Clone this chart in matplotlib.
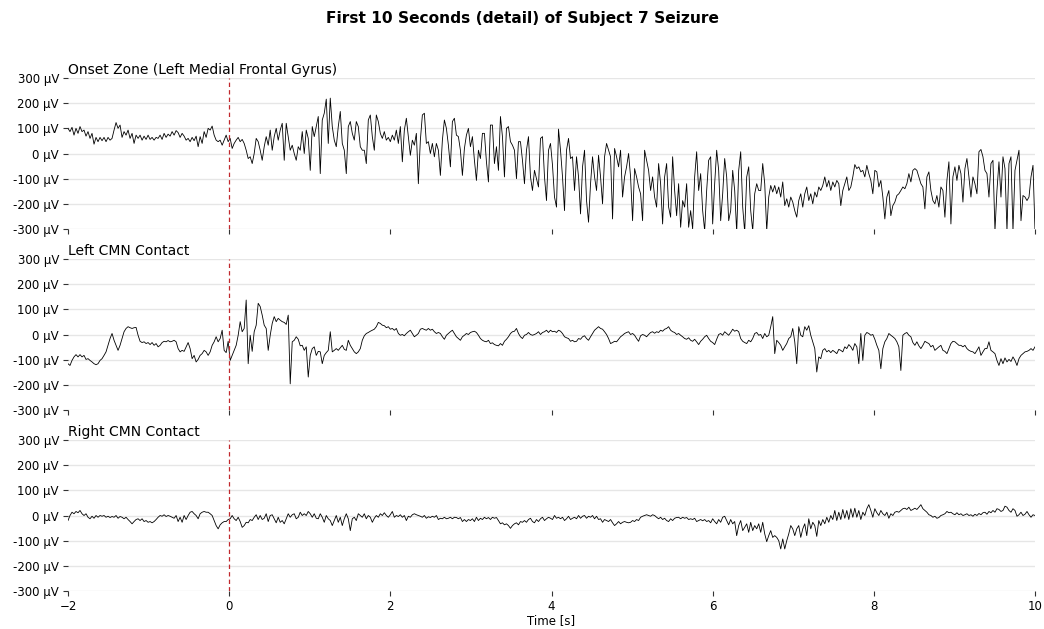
import numpy as np
import matplotlib
matplotlib.use("Agg")
import matplotlib.pyplot as plt

# ---------------- data (µV), uniformly sampled from -2 s to 10 s ----------------
T_START, T_END = -2, 10

onset_a = [100,87,104,73,100,80,107,87,93,69, 87,60,80,37,64,47,64,51,64,47,
           64,53,60,93,123,100,113,64,87,73, 93,60,80,40,73,60,73,53,69,56,
           73,56,64,53,64,60,73,56,80,64, 77,69,87,73,91,83,64,80,69,53,
           60,47,64,51,69,27,67,40,87,64, 100,93,109,73,53,47,53,33,53,73,
           47,60,20,40,53,64,47,56,40,13, -20,-13,-40,0,60,47,13,-27,27,67,
           33,93,13,67,100,53,93,120,-27,120, 67,13,33,0,-27,27,13,87,0,93,
           60,-67,107,67,107,147,-80,133,160,216, 40,220,107,53,27,107,167,40,13,-80,
           107,127,80,53,127,107]
onset_b = [27,13,13,-40,133,153,67,13,153,127, 80,60,87,53,64,47,73,53,93,40,
           107,-33,93,140,67,-7,53,33,80,-120, 53,153,160,40,47,0,40,-13,40,13,
           -87,53,133,100,33,-53,127,140,73,67, 13,-87,20,73,100,27,67,-27,-107,13,
           -20,80,80,-33,-113,113,113,-40,27,-67, 147,67,-93,100,107,47,33,13,-100,47,
           47,-27,-120,13,67,-93,-147,-67,-100,-133, 60,67,-93,-187,13,40,-47,-173,-213,97,
           13,-93,-227,13,60,-20,-13,-147,-13,-93, -240,-53,13,-187,-273,-120,-13,-93,-147,-7,
           -93,-200,-13,40,13,-13,-260,20,-13,-53, 13,-173,-93,-53,0,-93,-267,-60,-93,-133,
           -160,-267,13,-27,-67,-147,-93,-173,-213,-40, -120,-280,-93,-40,-213,-253,-13,-147,-247,-120,
           -293,-187,-213,-120,-293,-227,-300,-93,7,-147]
onset_c = [-80,-227,-307,-147,-27,-13,-280,-120,13,-67, -267,-160,-20,-93,-267,-227,-67,-147,-313,-67,
           7,-213,-313,-93,-53,-227,-307,-160,-120,-147, -147,-40,-120,-307,-173,-127,-153,-127,-160,-133,
           -173,-113,-207,-180,-213,-173,-193,-227,-253,-187, -160,-213,-160,-133,-187,-160,-200,-153,-173,-133,
           -147,-127,-93,-133,-107,-147,-113,-133,-107,-120, -207,-147,-120,-93,-147,-133,-93,-44,-60,-53,
           -73,-67,-93,-47,-80,-107,-160,-67,-73,-133, -107,-173,-260,-173,-147,-247,-207,-193,-167,-160,
           -147,-133,-140,-120,-80,-113,-67,-60,-67,-93, -120,-133,-220,-93,-73,-147,-187,-200,-167,-213,
           -133,-147,-253,-107,-33,-280,-93,-53,-107,-47, -80,-193,-60,-20,-93,-173,-93,-120,-160,7,
           16,-13,-67,-80,-173,-40,-27,-307,-147,-33, -173,-13,-60,-307,-40,-13,-307,-67,-27,13,
           -267,-167,-173,-187,-173,-93,-47,-307]

left_a = [-116,-123,-103,-89,-80,-89,-80,-89,-83,-99, -96,-103,-109,-116,-120,-116,-103,-96,-83,-69,
          -43,-16,4,-23,-43,-63,-43,-16,11,24, 31,27,24,27,28,-3,-27,-32,-29,-36,
          -32,-40,-32,-43,-36,-49,-43,-32,-27,-29, -24,-29,-27,-23,-29,-56,-69,-63,-67,-49,
          -32,-56,-96,-83,-109,-99,-83,-76,-63,-69, -83,-69,-43,-29,-9,-29,-16,17,-63,-72,
          -27,-103,-83,-63,-43,-3,51,11,24,137, -116,-3,-67,11,37,124,111,77,37,24,
          -63,-3,44,71,51,64,57,51,48,40, 77,-196,-29,-23,-9,-19,-45,-43,-63,-49,
          -169,-83,-56,-49,-83,-67,-69,-116,-83,-72, -63,11,-69,-63,-56,-63,-53,-43,-59,-63,
          -23,-43,-56,-69,-76,-69]
left_b = [-56,-23,-5,4,8,13,17,21,31,48, 44,37,35,27,31,21,24,17,24,4,
          -3,0,-5,4,11,17,4,-9,-3,4, 21,24,20,17,24,17,21,11,4,8,
          4,-9,-19,-3,4,11,17,4,-9,-16, -23,-9,-3,4,0,8,11,13,8,-3,
          -16,-23,-27,-29,-23,-36,-33,-40,-43,-45, -36,-43,-27,-19,-9,4,11,13,24,4,
          -9,-16,-3,0,8,0,-3,0,4,11, 0,8,11,17,8,17,11,13,8,17,
          13,4,-9,-13,-16,-27,-23,-29,-27,-16, -19,-9,-5,-16,-23,-9,4,17,24,31,
          24,21,11,0,-16,-36,-32,-27,-29,-19, -9,-3,4,8,11,0,4,-3,-16,-27,
          -5,0,-3,-9,0,8,11,5,11,8, 17,13,21,24,31,17,11,8,0,4,
          -3,-9,-16,-19,-13,-23,-27,-19,-29,-40]
left_c = [-27,-19,-9,-3,-16,-27,-32,-40,-19,0, 4,-3,11,4,-3,8,21,13,17,11,
          -16,-27,-32,-36,-23,-29,-16,4,8,-3, 0,-16,4,-9,-3,31,71,-76,-23,-32,
          -43,-63,-49,-36,-16,-9,24,-29,-116,31, -3,-9,31,17,35,-3,-29,-56,-149,-89,
          -96,-63,-56,-69,-63,-72,-63,-69,-76,-59, -63,-69,-49,-56,-40,-49,-63,-36,-49,-116,
          4,-103,-3,8,4,-3,0,-19,-43,-63, -136,-56,-29,-16,4,-3,-9,-16,-29,-49,
          -143,-3,4,8,-3,-9,-32,-43,-29,-45, -56,-43,-27,-32,-36,-49,-43,-63,-56,-49,
          -43,-63,-67,-76,-56,-36,-27,-29,-36,-43, -43,-49,-43,-56,-63,-67,-69,-76,-63,-49,
          -83,-69,-56,-56,-29,-63,-69,-76,-103,-123, -96,-116,-93,-109,-99,-107,-89,-103,-123,-96,
          -83,-76,-69,-67,-63,-56,-63,-49]

right_a = [-20,0,13,7,16,11,20,7,0,7, -7,-13,-3,-11,0,-7,0,-3,0,-7,
           -3,-8,-4,-7,0,-11,-4,-7,-13,-7, -16,-24,-33,-24,-16,-13,-20,-13,-24,-20,
           -27,-24,-29,-24,-16,-7,0,-3,3,-4, 0,-3,-7,-11,0,-24,-7,-27,0,-16,
           0,13,16,7,0,-13,7,13,16,13, 13,7,0,-20,-40,-53,-37,-29,-24,-24,
           -16,-13,0,-13,-20,-7,-24,-47,-40,-27, -29,-16,-20,-7,3,-16,0,-16,-11,7,
           -24,0,3,-13,-29,-7,-27,-20,-33,-13, 7,-7,3,7,-13,-7,13,0,7,0,
           16,7,-7,7,-11,-13,7,-7,-27,0, -13,-20,-40,-20,0,-27,-7,-40,-13,7,
           -13,-60,-13,-7,-20,7]
right_b = [0,-7,7,-13,0,-7,-27,-11,0,-7, 7,0,11,0,-7,3,16,-7,0,-4,
           3,-7,0,-20,-3,-7,3,7,3,0, -3,-7,0,-11,-5,-8,-3,-7,0,-16,
           -11,-13,-7,-13,-11,-7,-13,-7,-8,-13, -8,-24,-16,-24,-16,-20,-13,-24,-7,-20,
           -11,-16,-7,-13,-8,-16,-7,-11,-8,-20, -33,-29,-37,-33,-40,-51,-40,-33,-29,-37,
           -24,-27,-20,-27,-16,-11,-24,-29,-16,-24, -13,-7,-20,-13,-7,-11,-16,0,-11,-7,
           -13,-7,-20,-13,-3,-16,-11,-7,-13,0, -11,-3,0,-11,-3,-7,0,-13,-3,-16,
           -13,-27,-16,-20,-24,-16,-29,-40,-33,-24, -33,-27,-24,-27,-29,-27,-20,-24,-16,-20,
           -7,-3,0,3,0,-3,3,0,-7,-13, -7,-16,-11,-20,-24,-13,-20,-11,-8,-7,
           -13,-7,-11,-8,-16,-13,-16,-11,-24,-20]
right_c = [-16,-21,-16,-24,-20,-29,-13,-24,-33,-16, -27,-7,-3,-20,-37,-16,-33,-24,-80,-40,
           -20,-60,-47,-33,-67,-27,-60,-40,-53,-33, -67,-27,-73,-104,-80,-60,-87,-80,-87,-100,
           -133,-93,-133,-100,-73,-40,-53,-80,-53,-40, -87,-53,-33,-80,-13,-53,-27,-40,-83,-20,
           -40,-16,-33,-7,-27,0,-16,20,-20,13, -16,24,-11,20,-16,27,-7,29,-7,20,
           -16,13,0,27,43,20,-7,27,11,0, 20,7,0,13,-11,7,0,13,16,13,
           20,27,29,24,33,20,24,29,24,33, 43,27,20,13,3,0,-7,-3,-11,-8,
           0,3,7,16,11,13,7,3,11,3, 7,0,3,7,0,3,-3,5,0,8,
           3,11,13,5,16,11,20,13,27,24, 16,20,37,33,20,13,27,20,-3,3,
           13,0,5,16,3,-7,3,0]

onset_zone = onset_a + onset_b + onset_c
left_cmn = left_a + left_b + left_c
right_cmn = right_a + right_b + right_c

channels = [onset_zone, left_cmn, right_cmn]
channel_titles = ["Onset Zone (Left Medial Frontal Gyrus)", "Left CMN Contact", "Right CMN Contact"]
y_ticks = [-300, -200, -100, 0, 100, 200, 300]
x_ticks = [-2, 0, 2, 4, 6, 8, 10]
onset_time = 0
suptitle = "First 10 Seconds (detail) of Subject 7 Seizure"

# ---------------- figure ----------------
W, H = 1044, 629
fig = plt.figure(figsize=(W / 100, H / 100), dpi=100)
left = 68 / W
width = (1035 - 68) / W
tops = [78, 259, 440]
ax_h = 151

axes = []
for i, (vals, title) in enumerate(zip(channels, channel_titles)):
    top = tops[i]
    ax = fig.add_axes([left, 1 - (top + ax_h) / H, width, ax_h / H])
    t = np.linspace(T_START, T_END, len(vals))
    ax.plot(t, vals, color="black", linewidth=0.6, zorder=3)
    ax.axvline(onset_time, color="#c0282d", linestyle=(0, (3.5, 2.5)), linewidth=0.9, zorder=4)
    ax.set_xlim(T_START, T_END)
    ax.set_ylim(-300, 300)
    ax.set_yticks(y_ticks)
    ax.set_yticklabels([f"{v} µV" for v in y_ticks], fontsize=8.5)
    ax.set_xticks(x_ticks)
    ax.grid(axis="y", color="#e6e6e6", linewidth=1.0, zorder=0)
    ax.set_axisbelow(True)
    for s in ax.spines.values():
        s.set_visible(False)
    ax.tick_params(axis="both", length=3.5, width=0.8, color="#333333", pad=3)
    ax.set_title(title, loc="left", fontsize=10, pad=3)
    if i < 2:
        ax.tick_params(axis="x", labelbottom=False)
    else:
        ax.tick_params(axis="x", labelsize=8.5)
        ax.set_xlabel("Time [s]", fontsize=8.5, labelpad=1)
    axes.append(ax)

fig.suptitle(suptitle, fontsize=11.1, fontweight="bold", y=1 - 18 / H, va="center")

fig.savefig("out.png", dpi=100)
